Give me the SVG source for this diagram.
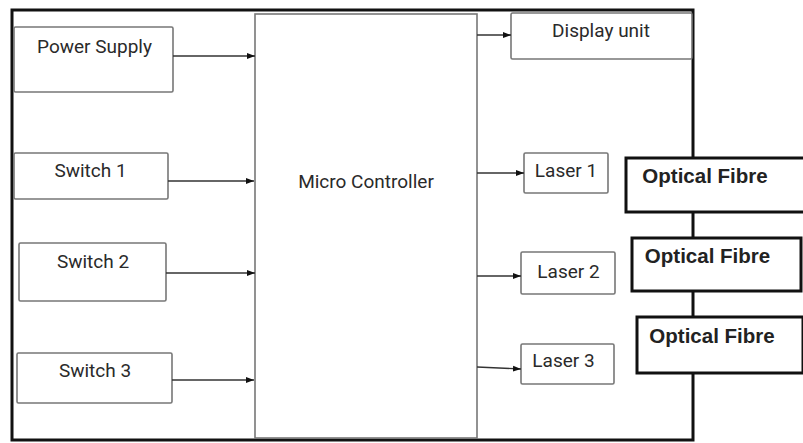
<svg xmlns="http://www.w3.org/2000/svg" width="803" height="443" viewBox="0 0 803 443">
<defs>
<marker id="ah" viewBox="0 0 8 8" refX="8" refY="4" markerWidth="8" markerHeight="8" markerUnits="userSpaceOnUse" orient="auto">
<path d="M0,1 L8,4 L0,7 Z" fill="#111"/>
</marker>
<style>
.box{fill:#fff;stroke:#777;stroke-width:1.6}
.fib{fill:#fff;stroke:#111;stroke-width:3}
.lbl{font-family:Roboto,"Liberation Sans",sans-serif;font-size:19px;fill:#2a2a2a;text-anchor:middle}
.flbl{font-family:"Liberation Sans",Arial,sans-serif;font-weight:bold;font-size:20.5px;fill:#222;text-anchor:middle}
.con{stroke:#333;stroke-width:1.3;fill:none;marker-end:url(#ah)}
</style>
</defs>
<rect width="803" height="443" fill="#fff"/>
<rect id="frame" x="12" y="10" width="681" height="430" fill="none" stroke="#111" stroke-width="3"/>
<g id="power-supply"><rect class="box" x="14" y="27" width="159" height="65" rx="1.5"/><text class="lbl" x="94.5" y="53">Power Supply</text></g>
<g id="switch-1"><rect class="box" x="14" y="153" width="154" height="46" rx="1.5"/><text class="lbl" x="90.5" y="177">Switch 1</text></g>
<g id="switch-2"><rect class="box" x="19" y="243" width="147" height="58" rx="1.5"/><text class="lbl" x="93" y="268">Switch 2</text></g>
<g id="switch-3"><rect class="box" x="17" y="353" width="155" height="50" rx="1.5"/><text class="lbl" x="95" y="377">Switch 3</text></g>
<g id="micro-controller"><rect class="box" x="255" y="14" width="222" height="424"/><text class="lbl" x="366" y="188">Micro Controller</text></g>
<g id="display-unit"><rect class="box" x="511" y="13" width="181" height="46" rx="1.5"/><text class="lbl" x="601" y="37">Display unit</text></g>
<g id="laser-1"><rect class="box" x="524" y="153" width="84" height="40" rx="1.5"/><text class="lbl" x="566" y="177">Laser 1</text></g>
<g id="laser-2"><rect class="box" x="521" y="252" width="94" height="42" rx="1.5"/><text class="lbl" x="568.5" y="278">Laser 2</text></g>
<g id="laser-3"><rect class="box" x="521" y="344" width="93" height="40" rx="1.5"/><text class="lbl" x="563.5" y="367">Laser 3</text></g>
<g id="optical-fibre-1"><rect class="fib" x="626" y="158" width="182" height="54"/><text class="flbl" x="705" y="183">Optical Fibre</text></g>
<g id="optical-fibre-2"><rect class="fib" x="632" y="238" width="169" height="53"/><text class="flbl" x="707.5" y="263">Optical Fibre</text></g>
<g id="optical-fibre-3"><rect class="fib" x="637" y="317" width="166" height="56"/><text class="flbl" x="712" y="343">Optical Fibre</text></g>
<g id="connectors">
<line class="con" x1="173" y1="56" x2="255" y2="56"/>
<line class="con" x1="168" y1="181" x2="254" y2="181"/>
<line class="con" x1="166" y1="273" x2="255" y2="273"/>
<line class="con" x1="172" y1="380" x2="254" y2="380"/>
<line class="con" x1="477" y1="35" x2="511" y2="35"/>
<line class="con" x1="477" y1="173" x2="524" y2="173"/>
<line class="con" x1="477" y1="276" x2="521" y2="276"/>
<line class="con" x1="477" y1="367" x2="521" y2="369"/>
</g>
</svg>
